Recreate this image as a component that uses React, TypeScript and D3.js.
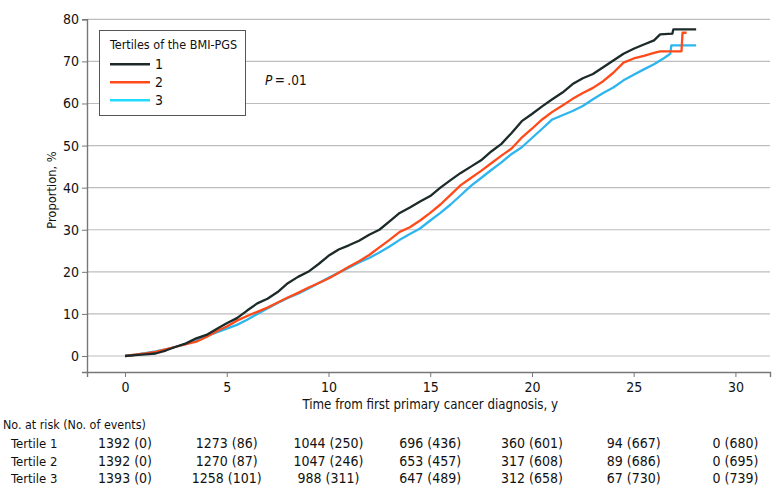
import React, { useEffect, useRef } from 'react';
import * as d3 from 'd3';

// cumulative incidence (%) by years since first primary cancer diagnosis
const tertile1: [number, number][] = [
    [0, 0], [0.5, 0.2], [1, 0.4], [1.5, 0.6], [2, 1.3], [2.5, 2.2], [3, 3.0], [3.5, 4.2],
    [4, 5.0], [4.5, 6.4], [5, 7.8], [5.5, 9.0], [6, 10.8], [6.5, 12.5], [7, 13.6], [7.5, 15.2],
    [8, 17.3], [8.5, 18.8], [9, 20.0], [9.5, 21.8], [10, 23.8], [10.5, 25.3], [11, 26.3],
    [11.5, 27.4], [12, 28.8], [12.5, 30.0], [13, 32.0], [13.5, 34.0], [14, 35.3], [14.5, 36.7],
    [15, 38.0], [15.5, 40.0], [16, 41.8], [16.5, 43.5], [17, 45.0], [17.5, 46.5], [18, 48.6],
    [18.5, 50.4], [19, 53.0], [19.5, 55.8], [20, 57.5], [20.5, 59.3], [21, 61.0], [21.5, 62.6],
    [22, 64.6], [22.5, 66.0], [23, 67.0], [23.5, 68.6], [24, 70.2], [24.5, 71.8], [25, 73.0],
    [25.5, 74.0], [26, 75.0], [26.3, 76.4], [26.9, 76.6], [26.95, 77.6], [28.07, 77.6],
];

const tertile2: [number, number][] = [
    [0, 0], [0.5, 0.3], [1, 0.6], [1.5, 1.0], [2, 1.6], [2.5, 2.2], [3, 2.8], [3.5, 3.4],
    [4, 4.5], [4.5, 5.9], [5, 7.0], [5.5, 8.4], [6, 9.5], [6.5, 10.5], [7, 11.5], [7.5, 12.7],
    [8, 13.9], [8.5, 15.0], [9, 16.2], [9.5, 17.3], [10, 18.4], [10.5, 19.8], [11, 21.2],
    [11.5, 22.5], [12, 24.0], [12.5, 25.8], [13, 27.6], [13.5, 29.5], [14, 30.6], [14.5, 32.2],
    [15, 34.0], [15.5, 36.0], [16, 38.3], [16.5, 40.6], [17, 42.3], [17.5, 44.0], [18, 45.8],
    [18.5, 47.6], [19, 49.3], [19.5, 51.9], [20, 54.0], [20.5, 56.2], [21, 58.0], [21.5, 59.5],
    [22, 61.1], [22.5, 62.5], [23, 63.7], [23.5, 65.3], [24, 67.3], [24.5, 69.7], [25, 70.7],
    [25.5, 71.3], [26, 72.0], [26.3, 72.4], [27.35, 72.4], [27.4, 76.8], [27.6, 76.8],
];

const tertile3: [number, number][] = [
    [0, 0], [0.5, 0.3], [1, 0.7], [1.5, 1.1], [2, 1.6], [2.5, 2.2], [3, 2.9], [3.5, 3.8],
    [4, 4.7], [4.5, 5.6], [5, 6.5], [5.5, 7.4], [6, 8.6], [6.5, 10.0], [7, 11.3], [7.5, 12.6],
    [8, 13.8], [8.5, 14.8], [9, 16.0], [9.5, 17.3], [10, 18.6], [10.5, 19.8], [11, 21.0],
    [11.5, 22.2], [12, 23.3], [12.5, 24.6], [13, 26.0], [13.5, 27.6], [14, 29.0], [14.5, 30.3],
    [15, 32.2], [15.5, 34.0], [16, 36.0], [16.5, 38.2], [17, 40.4], [17.5, 42.3], [18, 44.2],
    [18.5, 46.0], [19, 48.0], [19.5, 49.6], [20, 51.8], [20.5, 54.0], [21, 56.2], [21.5, 57.2],
    [22, 58.2], [22.5, 59.4], [23, 61.0], [23.5, 62.5], [24, 63.8], [24.5, 65.5], [25, 66.8],
    [25.5, 68.1], [26, 69.3], [26.5, 70.8], [26.8, 71.8], [26.85, 73.8], [28.07, 73.8],
];

const seriesLabels = ['1', '2', '3'];
const seriesColors = ['#1c2a2a', '#ff4a1a', '#2db5ef'];
const legendColors = ['#1c2a2a', '#ff4a1a', '#22dcff'];

const xTicks = [0, 5, 10, 15, 20, 25, 30];
const yTicks = [0, 10, 20, 30, 40, 50, 60, 70, 80];

// number at risk table
const riskRows = ['Tertile 1', 'Tertile 2', 'Tertile 3'];
const atRisk1 = [1392, 1273, 1044, 696, 360, 94, 0];
const events1 = [0, 86, 250, 436, 601, 667, 680];
const atRisk2 = [1392, 1270, 1047, 653, 317, 89, 0];
const events2 = [0, 87, 246, 457, 608, 686, 695];
const atRisk3 = [1393, 1258, 988, 647, 312, 67, 0];
const events3 = [0, 101, 311, 489, 658, 730, 739];

const FONT = "'DejaVu Sans Condensed', 'Liberation Sans', sans-serif";
const INK = '#111';

export default function App() {
    const svgRef = useRef<SVGSVGElement>(null);

    useEffect(() => {
        const svg = d3.select(svgRef.current);
        svg.selectAll('*').remove();

        const x = d3.scaleLinear().domain([-1.87, 31.7]).range([87, 770]);
        const y = d3.scaleLinear().domain([-3.8, 80]).range([372, 19.3]);

        const g = svg.append('g').attr('font-family', FONT);

        // horizontal grid
        g.append('g')
            .selectAll('line')
            .data(yTicks)
            .enter()
            .append('line')
            .attr('x1', x(-1.87))
            .attr('x2', 770)
            .attr('y1', (d) => y(d))
            .attr('y2', (d) => y(d))
            .attr('stroke', '#bdbdbd')
            .attr('stroke-width', 1.2);

        const xAxis = g
            .append('g')
            .attr('transform', `translate(0, ${y(-3.8)})`)
            .call(d3.axisBottom(x).tickValues(xTicks).tickSize(5).tickPadding(5));
        xAxis.select('.domain').attr('stroke', '#777').attr('stroke-width', 1.4);
        xAxis.selectAll('.tick line').attr('stroke', '#777');
        xAxis.selectAll('.tick text').attr('font-size', 14).attr('fill', INK).attr('font-family', FONT);

        const yAxis = g
            .append('g')
            .attr('transform', `translate(${x(-1.87)}, 0)`)
            .call(d3.axisLeft(y).tickValues(yTicks).tickSize(5).tickPadding(3));
        yAxis.select('.domain').attr('stroke', '#777').attr('stroke-width', 1.4);
        yAxis.selectAll('.tick line').attr('stroke', '#777');
        yAxis.selectAll('.tick text').attr('font-size', 14).attr('fill', INK).attr('font-family', FONT);

        const line = d3
            .line<[number, number]>()
            .x((d) => x(d[0]))
            .y((d) => y(d[1]));

        [tertile3, tertile2, tertile1].forEach((s, i) => {
            g.append('path')
                .datum(s)
                .attr('fill', 'none')
                .attr('stroke', seriesColors[2 - i])
                .attr('stroke-width', 2.3)
                .attr('stroke-linejoin', 'round')
                .attr('d', line);
        });

        // legend
        const legend = g.append('g');
        legend
            .append('rect')
            .attr('x', 99.5)
            .attr('y', 30.5)
            .attr('width', 146)
            .attr('height', 85)
            .attr('fill', '#fff')
            .attr('stroke', '#555')
            .attr('stroke-width', 1);
        legend
            .append('text')
            .attr('x', 110)
            .attr('y', 49)
            .attr('font-size', 12.5)
            .attr('fill', INK)
            .text('Tertiles of the BMI-PGS');
        seriesLabels.forEach((lab, i) => {
            const ly = 64.3 + i * 18;
            legend
                .append('line')
                .attr('x1', 110)
                .attr('x2', 150)
                .attr('y1', ly)
                .attr('y2', ly)
                .attr('stroke', legendColors[i])
                .attr('stroke-width', 2.5);
            legend
                .append('text')
                .attr('x', 155)
                .attr('y', ly + 5)
                .attr('font-size', 14)
                .attr('fill', INK)
                .text(lab);
        });

        const pText = g
            .append('text')
            .attr('x', 265)
            .attr('y', 85)
            .attr('font-size', 13.5)
            .attr('fill', INK);
        pText.append('tspan').attr('font-style', 'italic').text('P');
        pText.append('tspan').text('\u2009=\u2009.01');

        g.append('text')
            .attr('transform', 'translate(56, 190) rotate(-90)')
            .attr('text-anchor', 'middle')
            .attr('font-size', 12.8)
            .attr('fill', INK)
            .text('Proportion, %');

        g.append('text')
            .attr('x', x(15))
            .attr('y', 409)
            .attr('text-anchor', 'middle')
            .attr('font-size', 13.2)
            .attr('fill', INK)
            .text('Time from first primary cancer diagnosis, y');

        // risk table
        g.append('text')
            .attr('x', 3)
            .attr('y', 429)
            .attr('font-size', 12.4)
            .attr('fill', INK)
            .text('No. at risk (No. of events)');

        const rows = [
            [atRisk1, events1],
            [atRisk2, events2],
            [atRisk3, events3],
        ];
        rows.forEach(([risk, ev], r) => {
            const ry = 448 + r * 17.5;
            g.append('text')
                .attr('x', 11)
                .attr('y', ry)
                .attr('font-size', 13)
                .attr('fill', INK)
                .text(riskRows[r]);
            g.append('g')
                .selectAll('text')
                .data(xTicks)
                .enter()
                .append('text')
                .attr('x', (d) => x(d))
                .attr('y', ry)
                .attr('text-anchor', 'middle')
                .attr('font-size', 14)
                .attr('fill', INK)
                .text((d, i) => `${risk[i]} (${ev[i]})`);
        });
    }, []);

    return (
        <div style={{ width: 780, height: 499, background: '#fff' }}>
            <style>{'body { margin: 0; }'}</style>
            <svg ref={svgRef} width={780} height={499} style={{ display: 'block' }} />
        </div>
    );
}
